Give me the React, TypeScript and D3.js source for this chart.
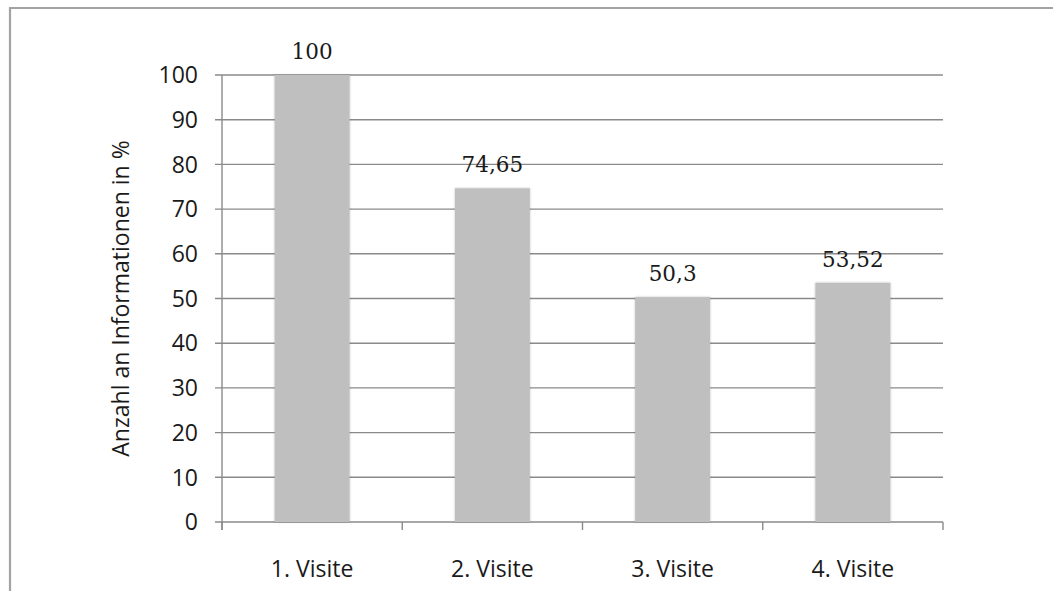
import React from "react";
import * as d3 from "d3";

const categories: string[] = ["1. Visite", "2. Visite", "3. Visite", "4. Visite"];
const values: number[] = [100, 74.65, 50.3, 53.52];
const valueLabels: string[] = ["100", "74,65", "50,3", "53,52"];
const yTicks: number[] = [0, 10, 20, 30, 40, 50, 60, 70, 80, 90, 100];
const yTitle = "Anzahl an Informationen in %";

const W = 1053;
const H = 591;
const plot = { left: 222, right: 943, top: 75, bottom: 522 };

export default function App() {
  const x = d3
    .scaleBand<string>()
    .domain(categories)
    .range([plot.left, plot.right])
    .padding(0);
  const y = d3.scaleLinear().domain([0, 100]).range([plot.bottom, plot.top]);
  const barW = x.bandwidth() * 0.416;
  const xTickPos = [...categories.map((c) => x(c)!), plot.right];

  const axisFont = "'Open Sans', 'Liberation Sans', sans-serif";
  const labelFont = "'DejaVu Serif', 'Liberation Serif', serif";

  return (
    <svg
      width={W}
      height={H}
      style={{ position: "absolute", left: 0, top: 0, background: "#fff" }}
    >
      <defs>
        <filter id="soft" x="-10%" y="-10%" width="120%" height="120%">
          <feDropShadow dx="0" dy="0" stdDeviation="1.2" floodColor="#000" floodOpacity="0.25" />
        </filter>
      </defs>
      <rect x={0} y={0} width={W} height={H} fill="#fff" />
      {/* outer frame */}
      <path d={`M10,${H} L10,8 L${W},8`} fill="none" stroke="#a3a3a3" strokeWidth={2.2} />

      {/* gridlines */}
      {yTicks.map((t) => (
        <line
          key={"g" + t}
          x1={plot.left - 7}
          x2={plot.right}
          y1={y(t)}
          y2={y(t)}
          stroke="#8a8a8a"
          strokeWidth={1.4}
        />
      ))}
      {/* y axis */}
      <line x1={plot.left} x2={plot.left} y1={plot.top} y2={plot.bottom + 8} stroke="#8a8a8a" strokeWidth={1.4} />
      {/* x ticks */}
      {xTickPos.map((p, i) => (
        <line key={"xt" + i} x1={p} x2={p} y1={plot.bottom} y2={plot.bottom + 8} stroke="#8a8a8a" strokeWidth={1.4} />
      ))}

      {/* bars */}
      {categories.map((c, i) => {
        const cx = x(c)! + x.bandwidth() / 2;
        return (
          <rect
            key={"b" + c}
            x={cx - barW / 2}
            y={y(values[i])}
            width={barW}
            height={y(0) - y(values[i])}
            fill="#bfbfbf"
            filter="url(#soft)"
          />
        );
      })}

      {/* value labels */}
      {categories.map((c, i) => (
        <text
          key={"v" + c}
          x={x(c)! + x.bandwidth() / 2}
          y={y(values[i]) - 16}
          textAnchor="middle"
          fontFamily={labelFont}
          fontSize={21.5}
          fill="#1a1a1a"
        >
          {valueLabels[i]}
        </text>
      ))}

      {/* y tick labels */}
      {yTicks.map((t) => (
        <text
          key={"yl" + t}
          x={198}
          y={y(t)}
          dy="0.36em"
          textAnchor="end"
          fontFamily={axisFont}
          fontSize={23}
          fill="#1a1a1a"
        >
          {t}
        </text>
      ))}

      {/* x labels */}
      {categories.map((c) => (
        <text
          key={"xl" + c}
          x={x(c)! + x.bandwidth() / 2}
          y={577}
          textAnchor="middle"
          fontFamily={axisFont}
          fontSize={23}
          fill="#1a1a1a"
        >
          {c}
        </text>
      ))}

      {/* y title */}
      <text
        transform={`translate(129,${(plot.top + plot.bottom) / 2}) rotate(-90)`}
        textAnchor="middle"
        fontFamily={axisFont}
        fontSize={23}
        fill="#1a1a1a"
      >
        {yTitle}
      </text>
    </svg>
  );
}
